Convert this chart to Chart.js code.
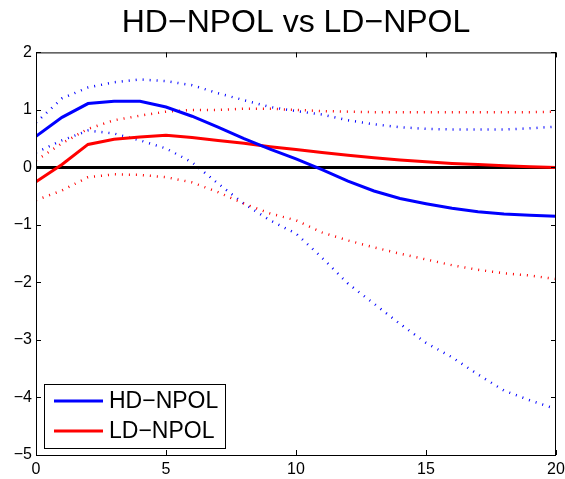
<!DOCTYPE html>
<html>
<head>
<meta charset="utf-8">
<script src="https://cdn.jsdelivr.net/npm/chart.js@4"></script>
<style>
  html, body { margin: 0; padding: 0; background: #fff; }
  #wrap { width: 565px; height: 479px; }
</style>
</head>
<body>
<div id="wrap"><canvas id="myChart" width="565" height="479"></canvas></div>
<script>
// horizon 0..20
var steps = [0,1,2,3,4,5,6,7,8,9,10,11,12,13,14,15,16,17,18,19,20]

// HD-NPOL response and bands
var hdMid = [0.54,0.87,1.11,1.15,1.15,1.05,0.89,0.70,0.50,0.32,0.15,-0.04,-0.24,-0.41,-0.54,-0.63,-0.71,-0.77,-0.81,-0.83,-0.85]
var hdUp  = [0.78,1.20,1.39,1.48,1.53,1.50,1.43,1.29,1.17,1.05,0.98,0.92,0.82,0.75,0.70,0.67,0.66,0.66,0.66,0.68,0.71]
var hdLo  = [0.26,0.47,0.64,0.59,0.47,0.33,0.09,-0.28,-0.63,-0.92,-1.15,-1.57,-2.02,-2.37,-2.72,-3.05,-3.30,-3.60,-3.88,-4.05,-4.20]

// LD-NPOL response and bands
var ldMid = [-0.25,0.05,0.40,0.49,0.53,0.56,0.52,0.47,0.42,0.36,0.31,0.26,0.21,0.17,0.13,0.10,0.07,0.05,0.03,0.01,0.00]
var ldUp  = [0.12,0.42,0.67,0.82,0.90,0.97,1.00,1.00,1.02,1.02,1.00,0.98,0.97,0.96,0.96,0.96,0.96,0.96,0.96,0.96,0.97]
var ldLo  = [-0.57,-0.40,-0.17,-0.12,-0.13,-0.17,-0.26,-0.43,-0.63,-0.80,-0.92,-1.13,-1.27,-1.39,-1.50,-1.60,-1.70,-1.78,-1.84,-1.88,-1.94]

var zeroX = [0, 20]
var zeroY = [0, 0]

var xTicks = [0, 5, 10, 15, 20]
var yTicks = [-5, -4, -3, -2, -1, 0, 1, 2]

function pts(xs, ys) {
    return ys.map(function (v, i) { return { x: xs[i], y: v } })
}

function fmt(v) {
    return v < 0 ? '\u2212' + Math.abs(v) : '' + v
}

// box around plot with inward ticks, like matlab
var axesBox = {
    id: 'axesBox',
    afterDraw: function (chart) {
        var ctx = chart.ctx
        var a = chart.chartArea
        var xs = chart.scales.x
        var ys = chart.scales.y
        var len = 5
        ctx.save()
        ctx.strokeStyle = '#000'
        ctx.lineWidth = 1
        ctx.strokeRect(a.left + 0.5, a.top + 0.5, a.right - a.left - 1, a.bottom - a.top)
        ctx.beginPath()
        xTicks.forEach(function (t) {
            var p = Math.round(xs.getPixelForValue(t)) + 0.5
            ctx.moveTo(p, a.bottom); ctx.lineTo(p, a.bottom - len)
            ctx.moveTo(p, a.top); ctx.lineTo(p, a.top + len)
        })
        yTicks.forEach(function (t) {
            var p = Math.round(ys.getPixelForValue(t)) + 0.5
            ctx.moveTo(a.left, p); ctx.lineTo(a.left + len, p)
            ctx.moveTo(a.right, p); ctx.lineTo(a.right - len, p)
        })
        ctx.stroke()

        // legend box, bottom left
        var bx = 44, by = 384, bw = 181, bh = 64
        ctx.fillStyle = '#fff'
        ctx.fillRect(bx, by, bw, bh)
        ctx.strokeRect(bx + 0.5, by + 0.5, bw, bh)
        ctx.font = '23px "Liberation Sans", Arial, sans-serif'
        ctx.textBaseline = 'middle'
        var items = chart.data.datasets.filter(function (d) { return d.inLegend })
        items.forEach(function (d, i) {
            var ly = by + 17 + i * 30
            ctx.strokeStyle = d.borderColor
            ctx.lineWidth = 3
            ctx.beginPath()
            ctx.moveTo(bx + 10, ly); ctx.lineTo(bx + 59, ly)
            ctx.stroke()
            ctx.fillStyle = '#000'
            ctx.fillText(d.label, bx + 65, ly + 1)
        })
        ctx.restore()
    }
}

var dotted = [1, 6]

var ctx = document.getElementById('myChart').getContext('2d')
var chart = new Chart(ctx, {
    type: 'line',
    data: {
        datasets: [
            { label: 'hdUp', data: pts(steps, hdUp), borderColor: '#0000ff', borderWidth: 2.5, borderDash: dotted },
            { label: 'hdLo', data: pts(steps, hdLo), borderColor: '#0000ff', borderWidth: 2.5, borderDash: dotted },
            { label: 'ldUp', data: pts(steps, ldUp), borderColor: '#ff0000', borderWidth: 2.5, borderDash: dotted },
            { label: 'ldLo', data: pts(steps, ldLo), borderColor: '#ff0000', borderWidth: 2.5, borderDash: dotted },
            { label: 'zero', data: pts(zeroX, zeroY), borderColor: '#000000', borderWidth: 3 },
            { label: 'LD\u2212NPOL', data: pts(steps, ldMid), borderColor: '#ff0000', borderWidth: 3, inLegend: true },
            { label: 'HD\u2212NPOL', data: pts(steps, hdMid), borderColor: '#0000ff', borderWidth: 3, inLegend: true }
        ].reverse()
    },
    options: {
        responsive: false,
        animation: false,
        devicePixelRatio: 1,
        elements: { point: { radius: 0 }, line: { tension: 0, borderCapStyle: 'butt' } },
        layout: { padding: { left: 0, right: 0, top: 0, bottom: 0 } },
        plugins: {
            legend: { display: false },
            tooltip: { enabled: false },
            title: {
                display: true,
                fullSize: false,
                text: 'HD\u2212NPOL vs LD\u2212NPOL',
                color: '#000',
                font: { family: '"Liberation Sans", Arial, sans-serif', size: 32, weight: 'normal', lineHeight: 1.2 },
                padding: { top: 4, bottom: 10 }
            }
        },
        scales: {
            x: {
                type: 'linear',
                min: 0, max: 20,
                grid: { display: false, drawTicks: false },
                border: { display: false },
                afterBuildTicks: function (s) { s.ticks = xTicks.map(function (v) { return { value: v } }) },
                afterFit: function (s) { s.height = 24; s.paddingRight = 9; s.paddingLeft = 0 },
                ticks: {
                    padding: 5,
                    color: '#000',
                    maxRotation: 0,
                    font: { family: '"Liberation Sans", Arial, sans-serif', size: 16 },
                    callback: function (v) { return fmt(v) }
                }
            },
            y: {
                min: -5, max: 2,
                grid: { display: false, drawTicks: false },
                border: { display: false },
                afterBuildTicks: function (s) { s.ticks = yTicks.map(function (v) { return { value: v } }) },
                afterFit: function (s) { s.width = 36; s.paddingTop = 0; s.paddingBottom = 0 },
                ticks: {
                    padding: 4,
                    color: '#000',
                    font: { family: '"Liberation Sans", Arial, sans-serif', size: 16 },
                    callback: function (v) { return fmt(v) }
                }
            }
        }
    },
    plugins: [axesBox]
})
</script>
</body>
</html>
